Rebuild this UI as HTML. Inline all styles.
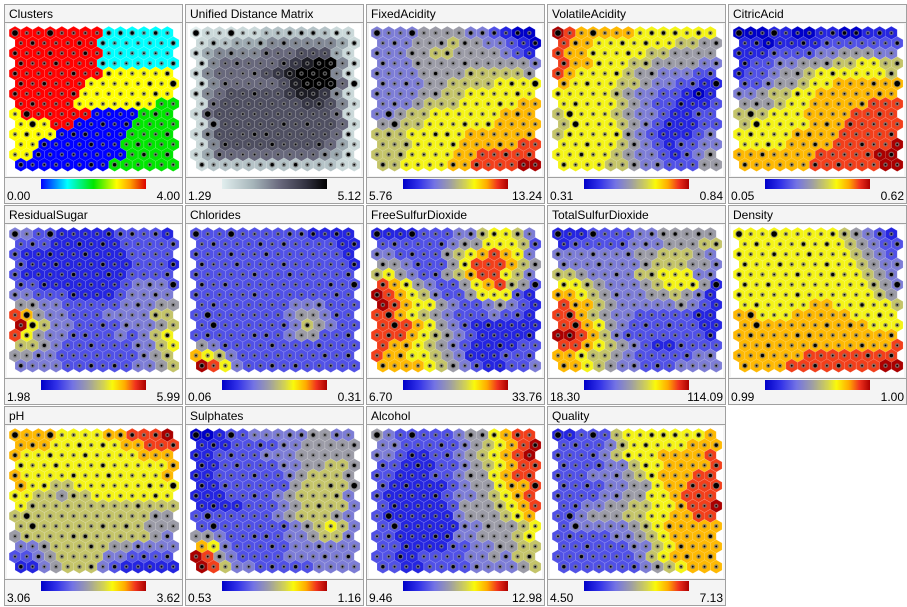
<!DOCTYPE html>
<html><head><meta charset="utf-8"><style>
html,body{margin:0;padding:0;background:#fff;}
svg{display:block;font-family:"Liberation Sans",sans-serif;}
</style></head><body>
<svg id="root" width="907" height="607" xmlns="http://www.w3.org/2000/svg"></svg>
<script>
const panelTitles = ["Clusters","Unified Distance Matrix","FixedAcidity","VolatileAcidity","CitricAcid","ResidualSugar","Chlorides","FreeSulfurDioxide","TotalSulfurDioxide","Density","pH","Sulphates","Alcohol","Quality"];
const panelMins = ["0.00","1.29","5.76","0.31","0.05","1.98","0.06","6.70","18.30","0.99","3.06","0.53","9.46","4.50"];
const panelMaxs = ["4.00","5.12","13.24","0.84","0.62","5.99","0.31","33.76","114.09","1.00","3.62","1.16","12.98","7.13"];
const hits = ["31131111222121","12111212111112","21121121111111","21121112111112","21111211211112","21211111111213","21111211111121","12111111112111","13111111111121","13111112121111","12111221111112","11211121112111","11211111111212","21111121211111"];
const gridClusters = ["RRRRRRRRCCCCCC","RRRRRRRCCCCCCC","RRRRRRRRCCCCCC","RRRRRRRCCCCCCC","RRRRRRRRYYYYYY","RRRRRRYYYYYYYY","RRRRRRYYYYYYYY","RRRRRYYYYYYYGG","YRRRRRRBBBBGGG","YYYRRBBBBBGGGG","YYYYBBBBBBGGGG","YYBBBBBBBGGGGG","YYBBBBBBBBGGGG","BBBBBBBBGGGGGG"];
const gridUDM = ["01111122222211","12233344444431","13444455566631","14555556789941","14555567899941","14555556899951","14566666788741","15666666677641","15666666666651","14666666666651","14666666666651","14666666666531","13555555555431","12222222222211"];
const gridFixedAcidity = ["33334444332100","33344454433210","33344554444321","33344444444443","33334444555554","33334455556666","33334455666666","33345556666677","33455666666777","44556666667777","55566666777777","55566667777788","55566667788888","55666677888899"];
const gridVolatileAcidity = ["98777776666666","87766666665544","87766666554444","87766655444433","87666654433322","76666554332211","66666543322101","66666543221112","56666543321122","56666543211122","56666643211123","66666543212233","66666543321234","66665543322244"];
const gridCitricAcid = ["00011001100111","11011112222222","11122223344433","12233444556655","12234456666665","22344566777777","33455667777777","44456677777888","55566677778888","56666677788888","66666777788888","66667777888889","77777778888899","77777788888899"];
const gridResidualSugar = ["33221111122221","22211111122222","21111111112222","21111111112221","21111111112222","22111111123332","33222111123333","44332222233344","87433222333355","96533222233345","86433222232356","55432222223356","44332222222345","33332222223345"];
const gridChlorides = ["22222222221111","22222222222211","22222222222221","22222222222221","22222222222222","22222222222222","22222222222222","22222222333222","22222222344322","22222222354322","22222222344222","43222222222222","76532222222222","98632222222222"];
const gridFreeSulfur = ["11112223356653","22222234466652","33222245678763","44322246888754","56432245788653","87643224678542","98765322466621","98766432234321","88765432223221","88876432111111","88876543211111","87765432111122","87766543111222","77776543211223"];
const gridTotalSulfur = ["11122223344444","12222233344455","33333334455543","33333334555443","55433335566633","66543334566641","77654333445431","87754333334321","88754332222211","88764322222211","99875322222221","88765432112222","77655432222233","77654332223333"];
const gridDensity = ["66666666654321","66666666654322","66666666665432","66666666665433","66666666666543","66666666666543","66666666666654","66666677666665","77666777776666","77777777777666","77777777777777","77777777777778","77777788888888","77778888888899"];
const gridPH = ["77776666778889","77766666677888","76666666666777","66666666666667","76666666666667","76655666666666","66554556666666","65555555555555","55555555555544","55555555555444","45555555555543","33455555443333","22345555332222","11345553211111"];
const gridSulphates = ["00122333334433","11122223344444","11222233344444","11222223344554","11222222345554","11222222455554","11122223455553","11112223455553","22222223455543","22222222345653","44322222334553","76322222333333","98432222333333","98533222223333"];
const gridAlcohol = ["43222223446788","33222223456789","33211223456789","22111223456788","22111223446788","21111123446778","21111123345678","21111124445678","21111113444567","22111113344456","22111113344456","22111122334455","22112222334355","22112222333345"];
const gridQuality = ["11222566666667","22223566666777","22223566677778","22223356677778","22233345677788","22223344677888","22223344667888","22334455667889","22344455667788","23333345677777","22222334567777","22222233567777","22222223567777","22222223456777"];
const panelGrids = [gridClusters,gridUDM,gridFixedAcidity,gridVolatileAcidity,gridCitricAcid,gridResidualSugar,gridChlorides,gridFreeSulfur,gridTotalSulfur,gridDensity,gridPH,gridSulphates,gridAlcohol,gridQuality];

const NS="http://www.w3.org/2000/svg";
const root=document.getElementById('root');
function mk(tag,attrs,parent){const e=document.createElementNS(NS,tag);for(const k in attrs)e.setAttribute(k,attrs[k]);(parent||root).appendChild(e);return e;}
const divStops=[[0,[0,0,200]],[0.15,[50,50,232]],[0.3,[115,115,228]],[0.45,[158,158,165]],[0.6,[212,212,80]],[0.68,[250,250,10]],[0.8,[255,170,0]],[0.9,[240,50,30]],[1,[170,0,0]]];
const grayStops=[[0,[225,238,238]],[0.3,[165,180,185]],[0.55,[105,105,125]],[0.8,[50,50,65]],[1,[0,0,0]]];
const jetStops=[[0,[0,0,255]],[0.25,[0,255,255]],[0.5,[0,230,0]],[0.72,[255,255,0]],[0.85,[255,160,0]],[1,[220,0,0]]];
const clusterColors={R:"rgb(255,0,0)",C:"rgb(0,255,255)",Y:"rgb(255,255,0)",B:"rgb(0,0,255)",G:"rgb(0,230,0)"};
function cmap(stops,t){for(let i=1;i<stops.length;i++){if(t<=stops[i][0]){const a=stops[i-1],b=stops[i];const f=(t-a[0])/(b[0]-a[0]);const c=a[1].map((v,j)=>Math.round(v+(b[1][j]-v)*f));return `rgb(${c[0]},${c[1]},${c[2]})`;}}const l=stops[stops.length-1][1];return `rgb(${l[0]},${l[1]},${l[2]})`;}
const defs=mk('defs',{});
function grad(id,stops){const g=mk('linearGradient',{id:id,x1:0,y1:0,x2:1,y2:0},defs);stops.forEach(s=>{mk('stop',{offset:s[0],'stop-color':cmap(stops,s[0])},g);});}
grad('gdiv',divStops);grad('ggray',grayStops);grad('gjet',jetStops);

const PW=178,PH=199,DX=11.72,DY=10.13,R=6.77;
function xPos(px,c,r){return px+11+c*DX+(r%2?DX/2:0);}
function yPos(py,r){return py+29+r*DY;}
panelTitles.forEach((title,p)=>{
  const col=p%5,row=Math.floor(p/5);
  const px=4+col*181,py=4+row*201;
  const g=mk('g',{});
  
  
  mk('rect',{x:px+0.5,y:py+0.5,width:PW,height:PH,fill:'#f4f4f4',stroke:'#a0a0a0'},g);
  mk('line',{x1:px,y1:py+18.5,x2:px+PW,y2:py+18.5,stroke:'#a0a0a0'},g);
  mk('line',{x1:px,y1:py+173.5,x2:px+PW,y2:py+173.5,stroke:'#a0a0a0'},g);
  mk('rect',{x:px+3,y:py+20,width:PW-5,height:152,fill:'#fff'},g);
  const t=mk('text',{x:px+5,y:py+14,'font-size':12,fill:'#000'},g);t.textContent=title;
  
  
  const grid=panelGrids[p];
  const hg=mk('g',{},g);
  
  
  grid.forEach((rowStr,r)=>{
    for(let c=0;c<rowStr.length;c++){
      const ch=rowStr[c];let fill;
      if(p===0)fill=clusterColors[ch];
      else if(p===1)fill=cmap(grayStops,(+ch)/9);
      else fill=cmap(divStops,(+ch)/9);
      const cx=xPos(px,c,r),cy=yPos(py,r);
      let pts=[];for(let k=0;k<6;k++){const a=Math.PI/180*(60*k-90);pts.push((cx+R*Math.cos(a)).toFixed(2)+','+(cy+R*Math.sin(a)).toFixed(2));}
      const h=mk('polygon',{points:pts.join(' '),fill:fill,stroke:'rgba(255,255,255,0.22)','stroke-width':0.6},hg);
      
      
      const hv=+hits[r][c];
      const ring=[0,2.3,2.9,3.7][hv],dot=[0,0.9,1.7,2.8][hv];
      mk('circle',{cx:cx,cy:cy,r:ring,fill:'rgba(120,120,120,0.75)'},hg);
      mk('circle',{cx:cx,cy:cy,r:dot,fill:'#000'},hg);
    }
  });
  const gid=p===0?'gjet':(p===1?'ggray':'gdiv');
  const cb=mk('rect',{x:px+37,y:py+175,width:105,height:10,fill:`url(#${gid})`},g);
  
  
  const mn=mk('text',{x:px+3,y:py+196,'font-size':12,fill:'#000'},g);mn.textContent=panelMins[p];
  
  
  const mx=mk('text',{x:px+PW-2,y:py+196,'font-size':12,fill:'#000','text-anchor':'end'},g);mx.textContent=panelMaxs[p];
  
  
});
</script>
</body></html>
